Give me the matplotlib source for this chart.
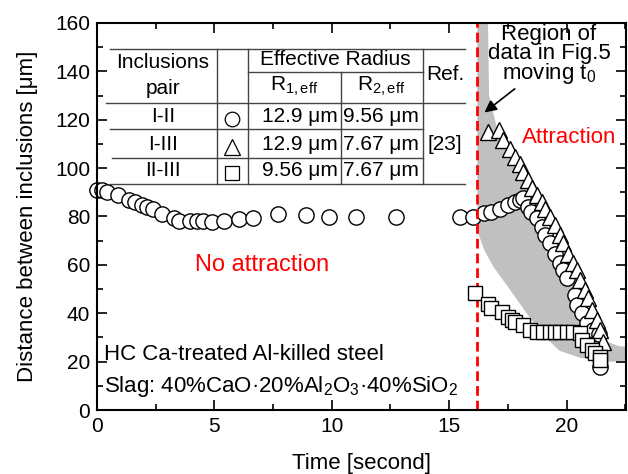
import matplotlib
matplotlib.use("Agg")
import matplotlib.pyplot as plt
from matplotlib.ticker import MultipleLocator

plt.rcParams["font.family"] = ["Liberation Sans", "DejaVu Sans"]
plt.rcParams["mathtext.fontset"] = "custom"
plt.rcParams["mathtext.rm"] = "Liberation Sans"
plt.rcParams["mathtext.it"] = "Liberation Sans"

# pair I-II (circles)
t_circle = [0.0, 0.2, 0.41, 0.88, 1.38, 1.62, 1.9, 2.12, 2.4, 2.75, 3.3, 3.5, 3.96,
            4.25, 4.53, 4.91, 5.42, 6.06, 6.66, 7.7, 8.89, 9.9, 11.03, 12.72, 15.46,
            16.03, 16.5, 16.8, 17.16, 17.5, 17.8, 18.0, 18.16, 18.37, 18.5, 18.73,
            18.94, 19.08, 19.3, 19.5, 19.72, 19.86, 20.0, 20.36, 20.43, 20.64, 20.86,
            21.14, 21.4, 21.42]
d_circle = [90.9, 90.9, 90.2, 88.8, 86.8, 86.1, 84.7, 83.8, 82.9, 81.0, 79.2, 78.2, 78.2,
            78.2, 78.1, 77.6, 78.2, 78.8, 79.5, 80.9, 80.6, 79.6, 79.9, 79.6, 79.6,
            79.9, 81.3, 82.0, 83.3, 84.7, 86.1, 86.8, 87.5, 84.0, 82.0, 79.2,
            75.7, 72.3, 68.9, 64.7, 60.6, 58.0, 54.4, 47.5, 43.4, 40.0, 35.8,
            33.0, 31.5, 17.9]

# pair I-III (triangles)
t_tri = [16.67, 17.13, 17.3, 17.59, 17.8, 18.0, 18.16, 18.37, 18.51, 18.73, 18.94,
         19.08, 19.3, 19.5, 19.72, 19.86, 20.07, 20.29, 20.43, 20.57, 20.78, 20.92,
         21.07, 21.28, 21.42, 21.56]
d_tri = [115.0, 115.7, 111.6, 108.1, 104.7, 101.9, 98.5, 95.0, 91.6, 88.8, 86.1,
         83.3, 79.9, 76.4, 72.3, 68.9, 64.7, 60.6, 57.9, 53.7, 49.6, 46.2,
         41.3, 37.2, 33.0, 28.2]

# pair II-III (squares)
t_sq = [16.1, 16.67, 16.8, 17.24, 17.52, 17.66, 17.8, 18.16, 18.44, 18.73, 19.0, 19.3,
        19.5, 19.72, 20.0, 20.29, 20.57, 20.64, 20.86, 21.07, 21.2, 21.42, 21.42]
d_sq = [48.2, 44.0, 42.0, 40.6, 38.6, 37.2, 36.5, 35.1, 33.0, 32.4, 32.4, 32.4,
        32.4, 32.4, 32.4, 32.4, 31.7, 28.9, 26.9, 24.8, 23.4, 22.0, 20.5]

# grey region (data of Fig.5, moving t0): upper edge then lower edge back
band_x = [16.2, 16.65, 16.7, 17.0, 17.6, 18.2, 18.8, 19.4, 20.0, 20.5, 21.0, 21.4,
          21.8, 22.2, 22.6,
          22.6, 22.0, 21.7, 20.6, 19.7, 19.0, 18.3, 17.6, 16.9, 16.5, 16.2]
band_y = [162, 162, 130, 118, 106, 95, 84, 73, 60, 50, 40, 32,
          28, 26.5, 26,
          20.5, 20.0, 20.0, 21.5, 24.5, 31, 40, 49.6, 59, 66, 74]

t_start = 16.18

fig = plt.figure(figsize=(6.28, 4.74), dpi=100)
ax = fig.add_axes([0.1545, 0.135, 0.843, 0.8165])

ax.fill(band_x, band_y, color="#c0c0c0", lw=0, zorder=1)

mk = dict(mfc="white", mec="black", mew=1.0, ls="none")
ax.plot(t_circle, d_circle, "o", ms=11, zorder=3, clip_on=False, **mk)
ax.axvline(t_start, color="red", lw=2, dashes=(3.5, 1.8), zorder=4)
ax.plot(t_tri, d_tri, "^", ms=11.5, zorder=5, **mk)
ax.plot(t_sq, d_sq, "s", ms=9.6, zorder=6, **mk)

ax.set_xlim(0, 22.55)
ax.set_ylim(0, 160)
ax.xaxis.set_major_locator(MultipleLocator(5))
ax.xaxis.set_minor_locator(MultipleLocator(2.5))
ax.yaxis.set_major_locator(MultipleLocator(20))
ax.yaxis.set_minor_locator(MultipleLocator(10))
ax.tick_params(which="both", direction="in", top=True, right=True, labelsize=15, width=1.2)
ax.tick_params(which="major", length=7, pad=5)
ax.tick_params(which="minor", length=4)
for s in ax.spines.values():
    s.set_linewidth(1.5)
    s.set_zorder(10)

ax.set_xlabel("Time [second]", fontsize=16, labelpad=12)
ax.set_ylabel("Distance between inclusions [μm]", fontsize=16, labelpad=12)

# table in upper left
kw = dict(color="#444444", lw=1.0, zorder=2)
ax.plot([0.55, 15.67], [149.2, 149.2], **kw)
ax.plot([6.42, 13.87], [139.8, 139.8], **kw)
ax.plot([0.38, 15.67], [127.0, 127.0], **kw)
ax.plot([0.55, 13.87], [116.1, 116.1], **kw)
ax.plot([0.62, 13.87], [104.0, 104.0], **kw)
ax.plot([0.55, 15.67], [93.3, 93.3], **kw)
ax.plot([5.1, 5.1], [93.3, 149.2], **kw)
ax.plot([6.42, 6.42], [93.3, 149.2], **kw)
ax.plot([10.38, 10.38], [93.3, 139.8], **kw)
ax.plot([13.87, 13.87], [93.3, 149.2], **kw)

tk = dict(fontsize=15, va="center", zorder=7)
ax.text(2.81, 143.6, "Inclusions", ha="center", **tk)
ax.text(2.81, 133.0, "pair", ha="center", **tk)
ax.text(10.14, 144.8, "Effective Radius", ha="center", **tk)
ax.text(8.39, 133.8, r"R$_\mathregular{1,eff}$", ha="center", **tk)
ax.text(12.1, 133.8, r"R$_\mathregular{2,eff}$", ha="center", **tk)
ax.text(14.82, 138.6, "Ref.", ha="center", **tk)

pairs = ["I-II", "I-III", "II-III"]
r1 = ["12.9 μm", "12.9 μm", "9.56 μm"]
r2 = ["9.56 μm", "7.67 μm", "7.67 μm"]
row_y = [121.4, 109.8, 99.0]
symbols = [("o", 10.5), ("^", 11.5), ("s", 9.5)]
for name, a, b, y, (m, s) in zip(pairs, r1, r2, row_y, symbols):
    ax.text(2.81, y, name, ha="center", **tk)
    ax.text(10.27, y, a, ha="right", **tk)
    ax.text(10.47, y, b, ha="left", **tk)
    ax.plot([5.75], [y - 1.2], m, ms=s, mfc="white", mec="black", mew=0.9, zorder=7)
ax.text(14.82, 109.8, "[23]", ha="center", **tk)

# annotations
ax.annotate("Region of\ndata in Fig.5\nmoving t$_0$", xy=(16.5, 123), xytext=(19.25, 159.5),
            ha="center", va="top", fontsize=16, linespacing=0.85, zorder=8,
            arrowprops=dict(arrowstyle="-|>", color="black", lw=1.2,
                            mutation_scale=18, shrinkA=0, shrinkB=0,
                            relpos=(0.25, 0.0)))
ax.text(18.1, 112.8, "Attraction", color="red", fontsize=16, va="center", zorder=8)
ax.text(4.17, 60.0, "No attraction", color="red", fontsize=17, va="center", zorder=8)
ax.text(0.3, 20.7, "HC Ca-treated Al-killed steel", fontsize=16, va="baseline", zorder=8)
ax.text(0.3, 7.4, "Slag: 40%CaO·20%Al$_2$O$_3$·40%SiO$_2$", fontsize=16,
        va="baseline", zorder=8)

fig.savefig("out.png", dpi=100)
